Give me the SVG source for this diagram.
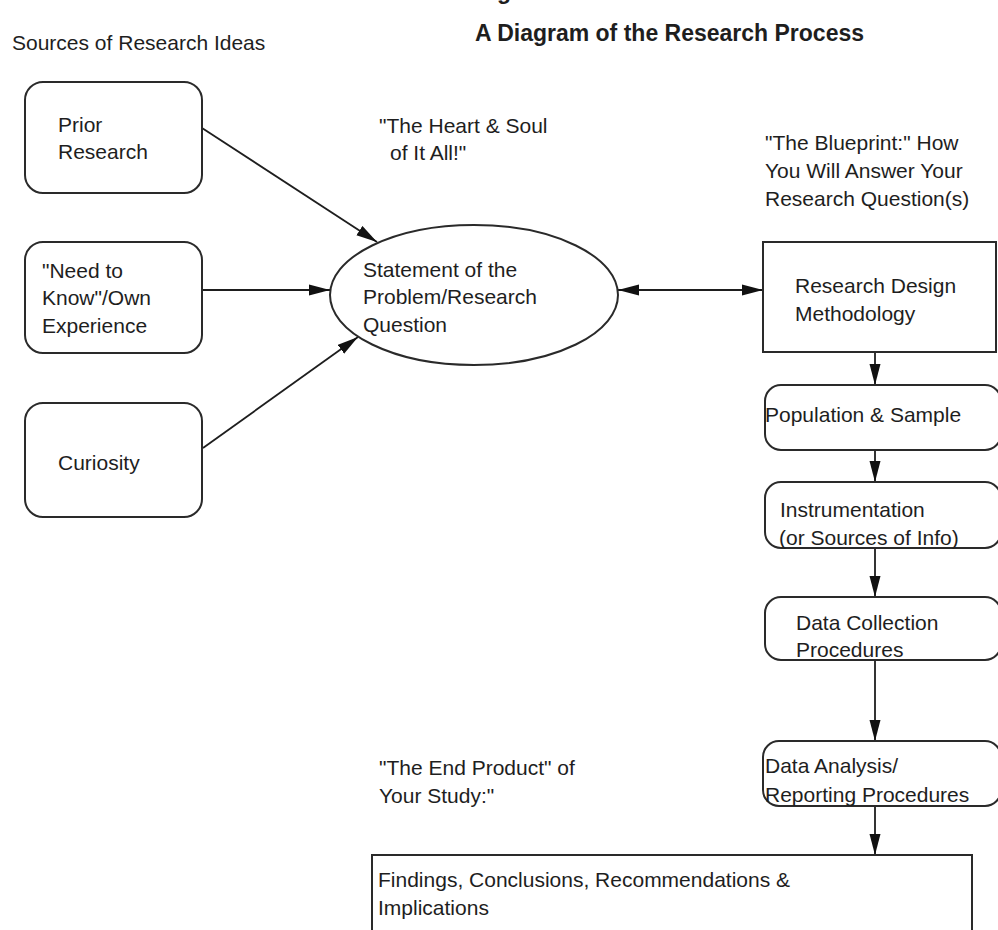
<svg xmlns="http://www.w3.org/2000/svg" width="998" height="930" viewBox="0 0 998 930">
<style>
text{font-family:"Liberation Sans",Arial,sans-serif;font-size:21px;fill:#1e1e1e}
.title{font-size:23px;font-weight:bold}
.box{fill:#fff;stroke:#2a2a2a;stroke-width:2}
.conn{stroke:#1e1e1e;stroke-width:1.8;fill:none}
</style>
<defs>
<marker id="ah" markerUnits="userSpaceOnUse" markerWidth="22" markerHeight="12" viewBox="0 0 22 12" refX="21" refY="6" orient="auto-start-reverse">
<path d="M0,0.5 L21,6 L0,11.5 z" fill="#111"/>
</marker>
</defs>
<rect width="998" height="930" fill="#fff"/>
<text class="title" x="497" y="-1">g</text>
<text class="title" x="475" y="41">A Diagram of the Research Process</text>
<text x="12" y="50">Sources of Research Ideas</text>
<text x="379" y="133">"The Heart &amp; Soul</text>
<text x="390" y="160">of It All!"</text>
<text x="765" y="150">"The Blueprint:" How</text>
<text x="765" y="178">You Will Answer Your</text>
<text x="765" y="206">Research Question(s)</text>
<text x="379" y="775">"The End Product" of</text>
<text x="379" y="803">Your Study:"</text>
<g id="connectors">
<line class="conn" x1="202" y1="128" x2="377" y2="242" marker-end="url(#ah)"/>
<line class="conn" x1="202" y1="290" x2="330" y2="290" marker-end="url(#ah)"/>
<line class="conn" x1="203" y1="448" x2="358" y2="337" marker-end="url(#ah)"/>
<line class="conn" x1="618" y1="290" x2="763" y2="290" marker-start="url(#ah)" marker-end="url(#ah)"/>
<line class="conn" x1="875" y1="352" x2="875" y2="385" marker-end="url(#ah)"/>
<line class="conn" x1="875" y1="450" x2="875" y2="482" marker-end="url(#ah)"/>
<line class="conn" x1="875" y1="548" x2="875" y2="597" marker-end="url(#ah)"/>
<line class="conn" x1="875" y1="660" x2="875" y2="741" marker-end="url(#ah)"/>
<line class="conn" x1="875" y1="806" x2="875" y2="855" marker-end="url(#ah)"/>
</g>
<g id="prior">
<rect class="box" x="25" y="82" width="177" height="111" rx="18"/>
<text x="58" y="132">Prior</text>
<text x="58" y="159">Research</text>
</g>
<g id="need">
<rect class="box" x="25" y="242" width="177" height="111" rx="18"/>
<text x="42" y="278">"Need to</text>
<text x="42" y="305">Know"/Own</text>
<text x="42" y="333">Experience</text>
</g>
<g id="curiosity">
<rect class="box" x="25" y="403" width="177" height="114" rx="18"/>
<text x="58" y="470">Curiosity</text>
</g>
<g id="statement">
<ellipse class="box" cx="474" cy="295" rx="144" ry="70"/>
<text x="363" y="277">Statement of the</text>
<text x="363" y="304">Problem/Research</text>
<text x="363" y="332">Question</text>
</g>
<g id="design">
<rect class="box" x="763" y="242" width="233" height="110"/>
<text x="795" y="293">Research Design</text>
<text x="795" y="321">Methodology</text>
</g>
<g id="population">
<rect class="box" x="765" y="385" width="236" height="65" rx="16"/>
<text x="765" y="422">Population &amp; Sample</text>
</g>
<g id="instrumentation">
<rect class="box" x="765" y="482" width="236" height="66" rx="16"/>
<text x="780" y="517">Instrumentation</text>
<text x="779" y="545">(or Sources of Info)</text>
</g>
<g id="collection">
<rect class="box" x="765" y="597" width="236" height="63" rx="16"/>
<text x="796" y="630">Data Collection</text>
<text x="796" y="657">Procedures</text>
</g>
<g id="analysis">
<rect class="box" x="763" y="741" width="238" height="65" rx="16"/>
<text x="765" y="773">Data Analysis/</text>
<text x="765" y="802">Reporting Procedures</text>
</g>
<g id="findings">
<rect class="box" x="372" y="855" width="600" height="90"/>
<text x="378" y="887">Findings, Conclusions, Recommendations &amp;</text>
<text x="378" y="915">Implications</text>
</g>
</svg>
